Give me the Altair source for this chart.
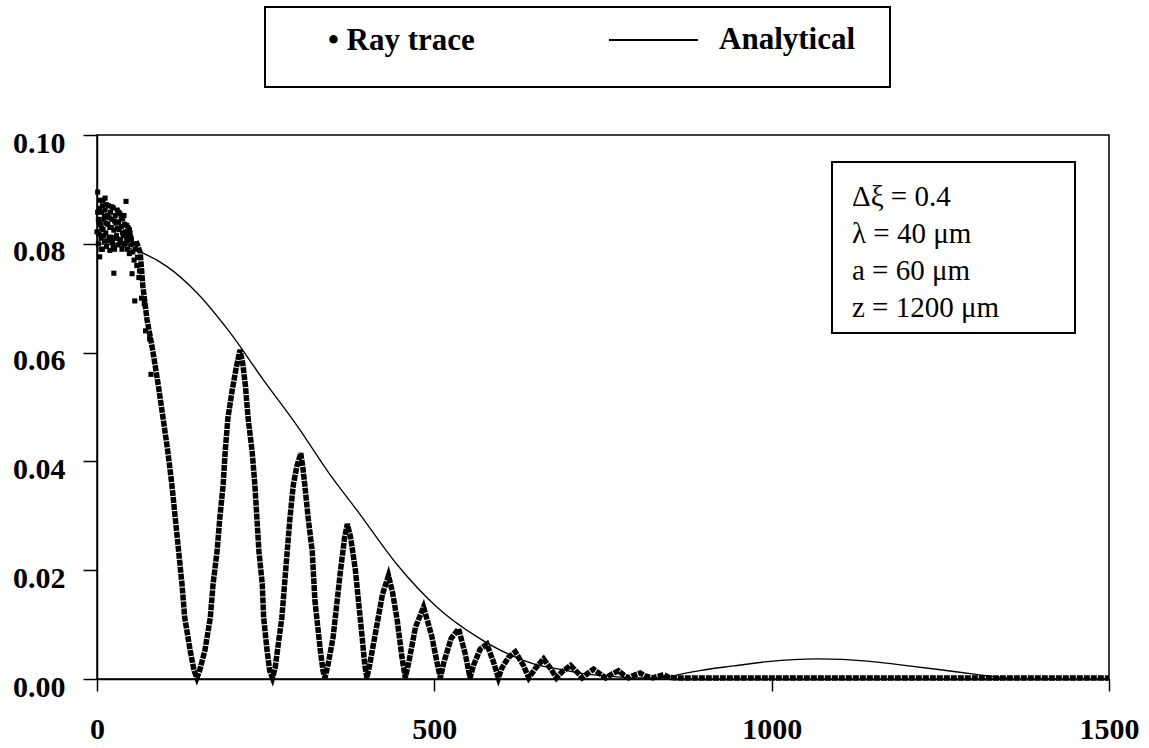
import altair as alt
import pandas as pd

# ---------------- data ----------------
# scattered ray-trace points near the axis (x < ~80)
cluster_x = [1, 2, 2, 3, 3, 4, 5, 5, 6, 7, 8, 8, 9, 10, 11, 12, 12, 13, 14, 15,
             16, 17, 18, 19, 20, 21, 22, 23, 24, 25, 25, 26, 27, 28, 29, 30, 31, 32,
             33, 34, 35, 36, 37, 38, 39, 40, 41, 42, 43, 44, 45, 46, 47, 48, 49, 50,
             51, 52, 53, 54, 55, 56, 57, 59, 60, 62, 63, 66, 70, 72, 78, 80,
             0, 1, 3, 4, 6, 7, 9, 10, 11, 13, 14, 16, 18, 19, 21, 22, 24, 26, 28, 30,
             32, 34, 36, 38, 40, 42, 44, 46, 48, 50]
cluster_y = [0.0895, 0.0845, 0.0800, 0.0862, 0.0818, 0.0776, 0.0880, 0.0835, 0.0810,
             0.0858, 0.0790, 0.0870, 0.0826, 0.0845, 0.0805, 0.0884, 0.0862, 0.0820,
             0.0795, 0.0852, 0.0836, 0.0870, 0.0812, 0.0788, 0.0858, 0.0830, 0.0845,
             0.0804, 0.0866, 0.0746, 0.0825, 0.0790, 0.0852, 0.0838, 0.0815, 0.0862,
             0.0798, 0.0840, 0.0826, 0.0855, 0.0808, 0.0832, 0.0790, 0.0846, 0.0815,
             0.0800, 0.0836, 0.0822, 0.0878, 0.0806, 0.0790, 0.0830, 0.0812, 0.0782,
             0.0820, 0.0798, 0.0808, 0.0745, 0.0785, 0.0800, 0.0770, 0.0695, 0.0790,
             0.0760, 0.0775, 0.0738, 0.0750, 0.0700, 0.0690, 0.0640, 0.0625, 0.0560,
             0.0822, 0.0858, 0.0840, 0.0865, 0.0790, 0.0828, 0.0880, 0.0815, 0.0850,
             0.0838, 0.0872, 0.0805, 0.0848, 0.0830, 0.0812, 0.0868, 0.0795, 0.0842,
             0.0810, 0.0828, 0.0858, 0.0802, 0.0846, 0.0820, 0.0852, 0.0800, 0.0834,
             0.0815, 0.0826, 0.0812]

# ray-trace oscillation, read along the dotted arches
trace_x = [58, 64, 68, 74, 83, 91, 98, 105, 111, 116, 121, 126, 130, 138, 144, 148,
           152, 160, 168, 172, 178, 182, 187, 190, 194, 200, 206, 212, 216, 220, 224,
           230, 234, 237, 240, 245, 247, 252, 256, 260,
           264, 274, 282, 286, 291, 296, 302, 305, 308, 313, 319, 323, 331, 335, 338,
           343, 350, 361, 367, 371, 376, 383, 393, 397, 400,
           404, 415, 423, 432, 438, 445, 452, 457,
           462, 472, 484, 496, 504, 509,
           514, 525, 536, 546, 553,
           558, 568, 578, 588, 595,
           600, 610, 620, 632, 640,
           650, 662, 673, 681,
           690, 702, 712, 719,
           727, 736, 746, 754,
           763, 773, 781, 788,
           796, 805, 814, 824,
           832, 840, 848, 860, 900, 1000, 1100, 1200, 1300, 1400, 1500]
trace_y = [0.0805, 0.0784, 0.0722, 0.0662, 0.0601, 0.0539, 0.0479, 0.0418, 0.0357,
           0.0296, 0.0235, 0.0174, 0.0113, 0.0053, 0.0015, 0.0002,
           0.0015, 0.0053, 0.0113, 0.0174, 0.0235, 0.0296, 0.0357, 0.0418, 0.0479,
           0.0528, 0.0570, 0.0605, 0.0580, 0.0539, 0.0479, 0.0418, 0.0357, 0.0296,
           0.0235, 0.0174, 0.0113, 0.0053, 0.0015, 0.0002,
           0.0020, 0.0113, 0.0235, 0.0296, 0.0357, 0.0390, 0.0415, 0.0390, 0.0357,
           0.0296, 0.0235, 0.0144, 0.0053, 0.0015, 0.0002,
           0.0030, 0.0077, 0.0200, 0.0260, 0.0285, 0.0260, 0.0200, 0.0077, 0.0025, 0.0002,
           0.0025, 0.0100, 0.0155, 0.0190, 0.0160, 0.0108, 0.0040, 0.0002,
           0.0030, 0.0095, 0.0132, 0.0080, 0.0030, 0.0002,
           0.0030, 0.0075, 0.0092, 0.0045, 0.0002,
           0.0025, 0.0055, 0.0064, 0.0030, 0.0002,
           0.0020, 0.0040, 0.0050, 0.0025, 0.0002,
           0.0020, 0.0037, 0.0018, 0.0002,
           0.0014, 0.0025, 0.0012, 0.0002,
           0.0010, 0.0018, 0.0009, 0.0002,
           0.0009, 0.0015, 0.0007, 0.0002,
           0.0007, 0.0011, 0.0005, 0.0002,
           0.0005, 0.0008, 0.0003, 0.0002, 0.0002, 0.0002, 0.0002, 0.0002, 0.0002,
           0.0002, 0.0002]

# analytical curve
analytical_x = [0, 30, 64, 104, 148, 197, 246, 297, 343, 386, 445, 504, 564, 613, 647,
                690, 721, 760, 800, 835, 869, 895, 944, 994, 1068, 1142, 1191, 1250,
                1300, 1340, 1372, 1420, 1500]
analytical_y = [0.0800, 0.0797, 0.0785, 0.0758, 0.0710, 0.0637, 0.0551, 0.0465, 0.0380,
                0.0309, 0.0210, 0.0132, 0.0077, 0.0044, 0.0028, 0.0017, 0.0010, 0.0005,
                0.0002, 0.0002, 0.0010, 0.0016, 0.0024, 0.0032, 0.0037, 0.0033, 0.0026,
                0.0017, 0.0009, 0.0003, 0.0000, 0.0000, 0.0000]

x_ticks = [0, 500, 1000, 1500]
y_ticks = [0.00, 0.02, 0.04, 0.06, 0.08, 0.10]
legend_labels = ["\u2022 Ray trace", "Analytical"]
inset_lines = ["\u0394\u03be = 0.4", "\u03bb = 40 \u03bcm", "a = 60 \u03bcm", "z = 1200 \u03bcm"]

# ---------------- chart ----------------
FONT = "'Liberation Serif', 'Times New Roman', 'DejaVu Serif', serif"
W, H = 1012, 544

cluster_df = pd.DataFrame({"x": cluster_x, "y": cluster_y})
trace_df = pd.DataFrame({"x": trace_x, "y": trace_y})
ana_df = pd.DataFrame({"x": analytical_x, "y": analytical_y})
one = pd.DataFrame({"k": [0]})

xs = alt.Scale(domain=[0, 1500], nice=False, zero=False)
ys = alt.Scale(domain=[0, 0.10], nice=False)

x_axis = alt.Axis(values=x_ticks, format="d", labelFont=FONT, labelFontSize=30,
                  labelFontWeight="bold", labelColor="black", tickSize=12,
                  tickColor="black", tickWidth=1.5, domainColor="black",
                  domainWidth=1.5, labelPadding=23, grid=False, title=None,
                  labelFlush=False, labelOverlap=False)
y_axis = alt.Axis(values=y_ticks, format=".2f", labelFont=FONT, labelFontSize=30,
                  labelFontWeight="bold", labelColor="black", tickSize=14,
                  tickColor="black", tickWidth=1.5, domainColor="black",
                  domainWidth=1.5, labelPadding=18, labelOffset=8, grid=False,
                  title=None, labelOverlap=False, labelBaseline="middle")

analytical = alt.Chart(ana_df).mark_line(
    color="black", strokeWidth=1.3, interpolate="monotone"
).encode(
    x=alt.X("x:Q", scale=xs, axis=x_axis),
    y=alt.Y("y:Q", scale=ys, axis=y_axis),
)

trace = alt.Chart(trace_df).mark_line(
    color="black", strokeWidth=5.5, strokeDash=[6, 1]
).encode(
    x=alt.X("x:Q", scale=xs),
    y=alt.Y("y:Q", scale=ys),
)

cluster = alt.Chart(cluster_df).mark_square(
    color="black", size=26, opacity=1
).encode(
    x=alt.X("x:Q", scale=xs),
    y=alt.Y("y:Q", scale=ys),
)

# legend box above the plot
legend_box = alt.Chart(one).mark_rect(
    fill="white", fillOpacity=0, stroke="black", strokeWidth=2
).encode(x=alt.value(168), x2=alt.value(793), y=alt.value(-128), y2=alt.value(-48))

legend_ray = alt.Chart(one).mark_text(
    text=legend_labels[0], font=FONT, fontSize=31, fontWeight="bold",
    align="left", baseline="alphabetic", color="black"
).encode(x=alt.value(231), y=alt.value(-85))

legend_line = alt.Chart(one).mark_rule(color="black", strokeWidth=2).encode(
    x=alt.value(512), x2=alt.value(601), y=alt.value(-95)
)

legend_ana = alt.Chart(one).mark_text(
    text=legend_labels[1], font=FONT, fontSize=31, fontWeight="bold",
    align="left", baseline="alphabetic", color="black"
).encode(x=alt.value(622), y=alt.value(-86))

# parameter box
inset_box = alt.Chart(one).mark_rect(
    fill="white", fillOpacity=1, stroke="black", strokeWidth=2
).encode(x=alt.value(735), x2=alt.value(978), y=alt.value(27), y2=alt.value(198))

inset_text = alt.Chart(one).mark_text(
    text=inset_lines, font=FONT, fontSize=29, lineHeight=37,
    align="left", baseline="alphabetic", color="black"
).encode(x=alt.value(755), y=alt.value(71))

chart = alt.layer(
    analytical, trace, cluster, legend_box, legend_ray, legend_line, legend_ana,
    inset_box, inset_text
).properties(
    width=W, height=H,
    padding={"left": 97, "top": 135, "right": 40, "bottom": 69},
    autosize=alt.AutoSizeParams(type="none"),
    background="white",
).configure_view(stroke="black", strokeWidth=1.5)

chart.save("out.html", embed_options={"renderer": "svg", "actions": False})
